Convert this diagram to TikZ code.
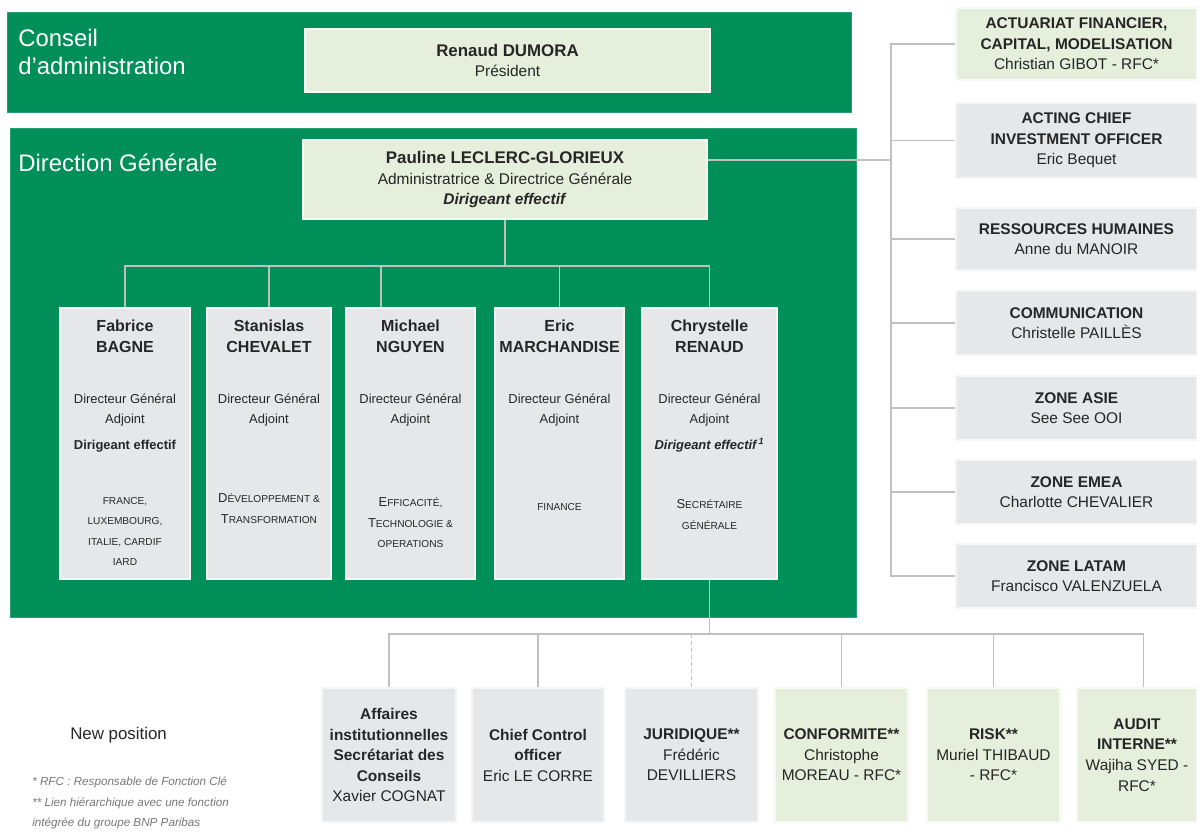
\documentclass[tikz,border=0pt]{standalone}
\usepackage{fontspec}
\setmainfont{Liberation Sans}
\usepackage{xcolor}
\usetikzlibrary{
    positioning
}
\definecolor{bnpgreen}{RGB}{0,142,89}
\definecolor{palegreen}{RGB}{229,239,220}
\definecolor{palegray}{RGB}{230,231,233}
\definecolor{linkgray}{RGB}{192,192,192}
\definecolor{inkgray}{RGB}{38,38,38}
\definecolor{notegray}{RGB}{120,120,120}
\newcommand{\scbig}[1]{{\fontsize{9.2}{14.6}\selectfont #1}}
\newcommand{\scsmall}[1]{{\fontsize{7.2}{14.6}\selectfont #1}}
\newcommand{\dirname}[1]{{\fontsize{11.4}{14.6}\selectfont\bfseries #1}}
\newcommand{\headname}[1]{{\fontsize{12}{14.6}\selectfont\bfseries #1}}
\newcommand{\dirtext}[1]{\parbox[c][6.175cm][t]{3cm}{\centering\fontsize{9.2}{14.6}\selectfont #1}}

\begin{document}
\begin{tikzpicture}[x=0.025cm, y=-0.025cm,
                    every node/.style={text=inkgray},
                    band/.style={fill=bnpgreen, draw=bnpgreen!85!white, inner sep=0pt},
                    bandtitle/.style={text=white, anchor=west, align=left, inner sep=0pt, font=\fontsize{17}{20}\selectfont},
                    greenbox/.style={fill=palegreen, draw=white!60!palegreen, line width=1pt, align=center, inner sep=0pt, font=\fontsize{11}{14.6}\selectfont},
                    graybox/.style={greenbox, fill=palegray, draw=white!60!palegray},
                    dirbox/.style={graybox, inner ysep=0.3cm, minimum height=6.775cm},
                    link/.style={draw=linkgray, line width=1.3pt},
                    note/.style={text=notegray, align=left, inner sep=0pt, font=\fontsize{8.3}{14.4}\selectfont\itshape}]
                    \fill[white] (0, 0) rectangle (1197, 832);
                    \useasboundingbox (0, 0) rectangle (1197, 832);
                    \node[band, minimum width=21.1cm, minimum height=2.5cm] (caband) at (429, 62) {};
                    \node[band, minimum width=21.15cm, minimum height=12.225cm] (dgband) at (433, 372.5) {};
                    \node[bandtitle] (catitle) at (18, 52) {Conseil\\d’administration};
                    \node[bandtitle] (dgtitle) at (18, 163) {Direction Générale};
                    \node[greenbox, minimum width=10.125cm, minimum height=1.575cm] (renaud) at (507.5, 60.5)
                        {\headname{Renaud DUMORA}\\Président};
                    \node[greenbox, minimum width=10.1cm, minimum height=1.975cm] (pauline) at (505, 179.5)
                        {\headname{Pauline LECLERC-GLORIEUX}\\Administratrice \& Directrice Générale\\\textbf{\textit{Dirigeant effectif}}};
                    \node[dirbox, minimum width=3.25cm] (fabrice) at (125, 443.5)
                        {\dirtext{\dirname{Fabrice\\BAGNE}\\[21.7pt]
                        Directeur Général\\Adjoint\\[4pt]\textbf{Dirigeant effectif}\\[24pt]
                        \scsmall{FRANCE,}\\\scsmall{LUXEMBOURG,}\\\scsmall{ITALIE, CARDIF}\\\scsmall{IARD}}};
                    \node[dirbox, minimum width=3.1cm] (stanislas) at (269, 443.5)
                        {\dirtext{\dirname{Stanislas\\CHEVALET}\\[21.7pt]
                        Directeur Général\\Adjoint\\[41.6pt]
                        \scbig{D}\scsmall{ÉVELOPPEMENT \&}\\\scbig{T}\scsmall{RANSFORMATION}}};
                    \node[dirbox, minimum width=3.225cm] (michael) at (410.5, 443.5)
                        {\dirtext{\dirname{Michael\\NGUYEN}\\[21.7pt]
                        Directeur Général\\Adjoint\\[44.5pt]
                        \scbig{E}\scsmall{FFICACITÉ,}\\\scbig{T}\scsmall{ECHNOLOGIE \&}\\\scsmall{OPERATIONS}}};
                    \node[dirbox, minimum width=3.225cm] (eric) at (559.5, 443.5)
                        {\dirtext{\dirname{Eric\\MARCHANDISE}\\[21.7pt]
                        Directeur Général\\Adjoint\\[47.3pt]
                        \scsmall{FINANCE}}};
                    \node[dirbox, minimum width=3.375cm] (chrystelle) at (709.5, 443.5)
                        {\dirtext{\dirname{Chrystelle\\RENAUD}\\[21.7pt]
                        Directeur Général\\Adjoint\\[4pt]\textbf{\textit{Dirigeant effectif\,\textsuperscript{1}}}\\[27.4pt]
                        \scbig{S}\scsmall{ECRÉTAIRE}\\\scsmall{GÉNÉRALE}}};
                    \draw[link] (pauline.south) -- ++(0, 46) coordinate (dgbar);
                    \draw[link] (fabrice.north) |- (dgbar) -| (chrystelle.north);
                    \draw[link] ([xshift=-0.74cm]michael.north) -- ([xshift=-0.74cm]michael.north |- dgbar);
                    \foreach \b in {stanislas, eric} {
                        \draw[link] (\b.north) -- (\b.north |- dgbar);
                    }
                    \node[greenbox, minimum width=6.025cm, minimum height=1.8cm] (actuariat) at (1076.5, 44)
                        {\textbf{ACTUARIAT FINANCIER,}\\\textbf{CAPITAL, MODELISATION}\\Christian GIBOT - RFC*};
                    \node[graybox, minimum width=6.025cm, minimum height=1.875cm] (acting) at (1076.5, 140.5)
                        {\textbf{ACTING CHIEF}\\\textbf{INVESTMENT OFFICER}\\Eric Bequet};
                    \node[graybox, minimum width=6.025cm, minimum height=1.55cm] (rh) at (1076.5, 239)
                        {\textbf{RESSOURCES HUMAINES}\\Anne du MANOIR};
                    \node[graybox, minimum width=6.025cm, minimum height=1.6cm] (comm) at (1076.5, 323)
                        {\textbf{COMMUNICATION}\\Christelle PAILLÈS};
                    \node[graybox, minimum width=6.025cm, minimum height=1.6cm] (asie) at (1076.5, 408)
                        {\textbf{ZONE ASIE}\\See See OOI};
                    \node[graybox, minimum width=6.025cm, minimum height=1.6cm] (emea) at (1076.5, 492)
                        {\textbf{ZONE EMEA}\\Charlotte CHEVALIER};
                    \node[graybox, minimum width=6.025cm, minimum height=1.6cm] (latam) at (1076.5, 576)
                        {\textbf{ZONE LATAM}\\Francisco VALENZUELA};
                    \draw[link] (actuariat.west) -- ++(-64, 0) coordinate (trunk) |- (latam.west);
                    \draw[link] ([yshift=0.49cm]pauline.east) -- ([yshift=0.49cm]pauline.east -| trunk);
                    \foreach \b in {acting, rh, comm, asie, emea} {
                        \draw[link] (\b.west) -- (\b.west -| trunk);
                    }
                    \node[graybox, minimum width=3.35cm, minimum height=3.35cm] (affaires) at (389, 755)
                        {\textbf{Affaires}\\\textbf{institutionnelles}\\\textbf{Secrétariat des}\\\textbf{Conseils}\\Xavier COGNAT};
                    \node[graybox, minimum width=3.3cm, minimum height=3.35cm] (chief) at (538, 755)
                        {\textbf{Chief Control}\\\textbf{officer}\\Eric LE CORRE};
                    \node[graybox, minimum width=3.325cm, minimum height=3.35cm] (juridique) at (691.5, 755)
                        {\textbf{JURIDIQUE**}\\Frédéric\\DEVILLIERS};
                    \node[greenbox, minimum width=3.325cm, minimum height=3.35cm] (conformite) at (841.5, 755)
                        {\textbf{CONFORMITE**}\\Christophe\\MOREAU - RFC*};
                    \node[greenbox, minimum width=3.325cm, minimum height=3.35cm] (risk) at (993.5, 755)
                        {\textbf{RISK**}\\Muriel THIBAUD\\- RFC*};
                    \node[greenbox, minimum width=3cm, minimum height=3.35cm] (audit) at (1137, 755)
                        {\textbf{AUDIT}\\\textbf{INTERNE**}\\Wajiha SYED -\\RFC*};
                    \draw[link] (chrystelle.south) -- ++(0, 54) coordinate (botbar);
                    \draw[link] (affaires.north) |- (botbar) -| ([xshift=0.16cm]audit.north);
                    \foreach \b in {chief, conformite, risk} {
                        \draw[link] (\b.north) -- (\b.north |- botbar);
                    }
                    \draw[link, dash pattern=on 3pt off 2pt] (juridique.north) -- (juridique.north |- botbar);
                    \node[anchor=west, inner sep=0pt, font=\fontsize{12}{14}\selectfont] (newpos) at (70, 735) {New position};
                    \node[note, anchor=west] (notes) at (32, 803)
                        {* RFC : Responsable de Fonction Clé\\** Lien hiérarchique avec une fonction\\intégrée du groupe BNP Paribas};
                \end{tikzpicture}
\end{document}
